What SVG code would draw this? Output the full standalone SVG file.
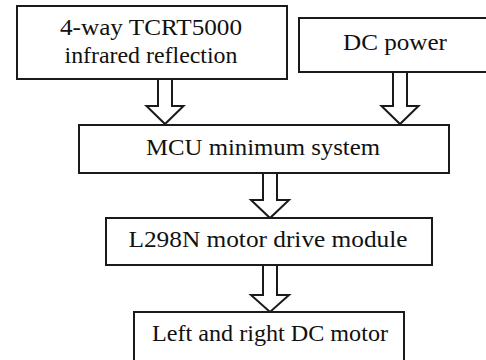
<svg xmlns="http://www.w3.org/2000/svg" width="486" height="360" viewBox="0 0 486 360">
<style>
.box{fill:#fff;stroke:#1a1a1a;stroke-width:2}
.arr{fill:#fff;stroke:#1a1a1a;stroke-width:2;stroke-linejoin:miter}
.t{font-family:"Liberation Serif","Times New Roman",serif;font-size:24px;fill:#111;text-anchor:middle}
</style>
<rect width="486" height="360" fill="#fff"/>
<g id="connectors">
<path class="arr" d="M158,79 V106 H146.5 L165,124 L183.5,106 H172 V79"/>
<path class="arr" d="M393,72 V106 H381.5 L400,124 L418.5,106 H407 V72"/>
<path class="arr" d="M263,173 V200 H251 L270,218 L289,200 H277 V173"/>
<path class="arr" d="M263,265 V295 H251 L270,312 L289,295 H277 V265"/>
</g>
<g id="sensor">
<rect class="box" x="17" y="6" width="270" height="73"/>
<text class="t" x="151" y="35" textLength="182" lengthAdjust="spacingAndGlyphs">4-way TCRT5000</text>
<text class="t" x="151" y="63" textLength="173" lengthAdjust="spacingAndGlyphs">infrared reflection</text>
</g>
<g id="power">
<rect class="box" x="299" y="18" width="200" height="54"/>
<text class="t" x="395" y="50" textLength="104" lengthAdjust="spacingAndGlyphs">DC power</text>
</g>
<g id="mcu">
<rect class="box" x="79" y="125" width="370" height="48"/>
<text class="t" x="263" y="155" textLength="234" lengthAdjust="spacingAndGlyphs">MCU minimum system</text>
</g>
<g id="driver">
<rect class="box" x="106" y="218" width="326" height="47"/>
<text class="t" x="268" y="247" textLength="279" lengthAdjust="spacingAndGlyphs">L298N motor drive module</text>
</g>
<g id="motor">
<rect class="box" x="134" y="312" width="270" height="52"/>
<text class="t" x="270" y="341" textLength="236" lengthAdjust="spacingAndGlyphs">Left and right DC motor</text>
</g>
</svg>
